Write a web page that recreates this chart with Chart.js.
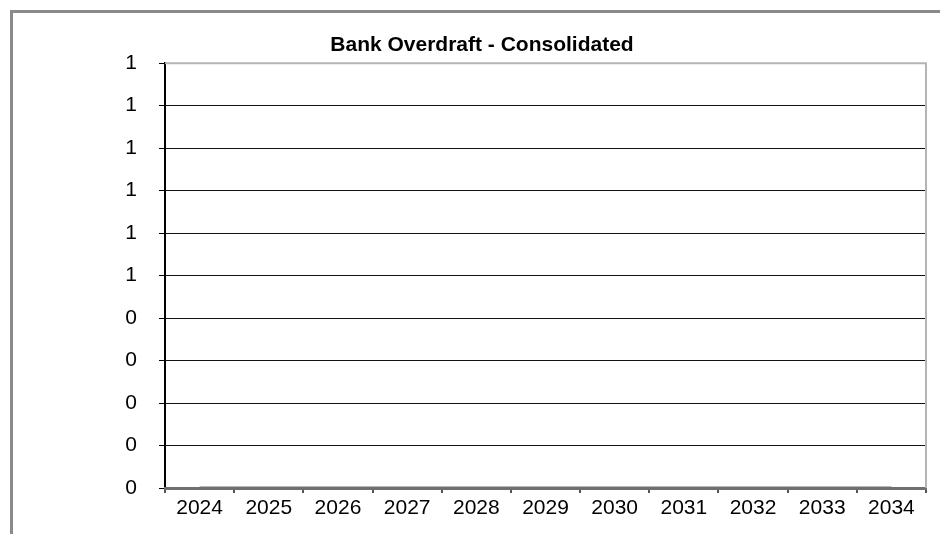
<!DOCTYPE html>
<html>
<head>
<meta charset="utf-8">
<script src="https://cdn.jsdelivr.net/npm/chart.js@4/dist/chart.umd.min.js"></script>
<style>
    html, body { margin: 0; padding: 0; background: #fff; }
    #frame {
        position: absolute; left: 10px; top: 10px;
        width: 960px; height: 560px;
        border-left: 3px solid #8a8a8a; border-top: 3px solid #8a8a8a;
    }
    #wrap { position: absolute; left: 0; top: 0; width: 940px; height: 534px; }
</style>
</head>
<body>
<div id="frame"></div>
<div id="wrap"><canvas id="overdraftChart"></canvas></div>
<script>
const years = ['2024', '2025', '2026', '2027', '2028', '2029', '2030', '2031', '2032', '2033', '2034'];
const overdraft = [0, 0, 0, 0, 0, 0, 0, 0, 0, 0, 0];
const yMin = 0;
const yMax = 1;
const yStep = 0.1;

// gray top and right edges of the plot area
const plotEdges = {
    id: 'plotEdges',
    beforeDatasetsDraw(chart) {
        const { ctx, chartArea } = chart;
        ctx.save();
        ctx.strokeStyle = '#b4b4b4';
        ctx.lineWidth = 2;
        ctx.beginPath();
        ctx.moveTo(chartArea.left, chartArea.top);
        ctx.lineTo(chartArea.right, chartArea.top);
        ctx.lineTo(chartArea.right, chartArea.bottom);
        ctx.stroke();
        ctx.restore();
    }
};

const ctx = document.getElementById('overdraftChart').getContext('2d');
new Chart(ctx, {
    type: 'line',
    data: {
        labels: years,
        datasets: [{
            label: 'Bank Overdraft',
            data: overdraft,
            borderColor: '#707070',
            borderWidth: 3,
            pointRadius: 0,
            fill: false,
            tension: 0
        }]
    },
    options: {
        responsive: true,
        maintainAspectRatio: false,
        animation: false,
        layout: {
            padding: { left: 38, right: 14, top: 33, bottom: 16 }
        },
        plugins: {
            legend: { display: false },
            tooltip: { enabled: false },
            title: {
                display: true,
                text: 'Bank Overdraft - Consolidated',
                color: '#000',
                font: { family: 'Liberation Sans, Arial, sans-serif', size: 21, weight: 'bold' },
                padding: { top: 0, bottom: 5 }
            }
        },
        scales: {
            y: {
                min: yMin,
                max: yMax,
                afterFit: function (scale) { scale.width = 127; },
                ticks: {
                    stepSize: yStep,
                    padding: 22,
                    color: '#000',
                    font: { family: 'Liberation Sans, Arial, sans-serif', size: 21 },
                    callback: function (value) {
                        return Math.round(value);
                    }
                },
                grid: {
                    color: '#111',
                    lineWidth: 1,
                    tickLength: 6,
                    tickColor: '#000'
                },
                border: { display: true, color: '#000', width: 2 }
            },
            x: {
                offset: true,
                afterFit: function (scale) { scale.height = 30; },
                ticks: {
                    padding: 3,
                    maxRotation: 0,
                    autoSkip: false,
                    color: '#000',
                    font: { family: 'Liberation Sans, Arial, sans-serif', size: 21 }
                },
                grid: {
                    offset: true,
                    drawOnChartArea: false,
                    drawTicks: true,
                    tickLength: 5,
                    tickColor: '#555',
                    lineWidth: 2
                },
                border: { display: true, color: '#707070', width: 3 }
            }
        }
    },
    plugins: [plotEdges]
});
</script>
</body>
</html>
